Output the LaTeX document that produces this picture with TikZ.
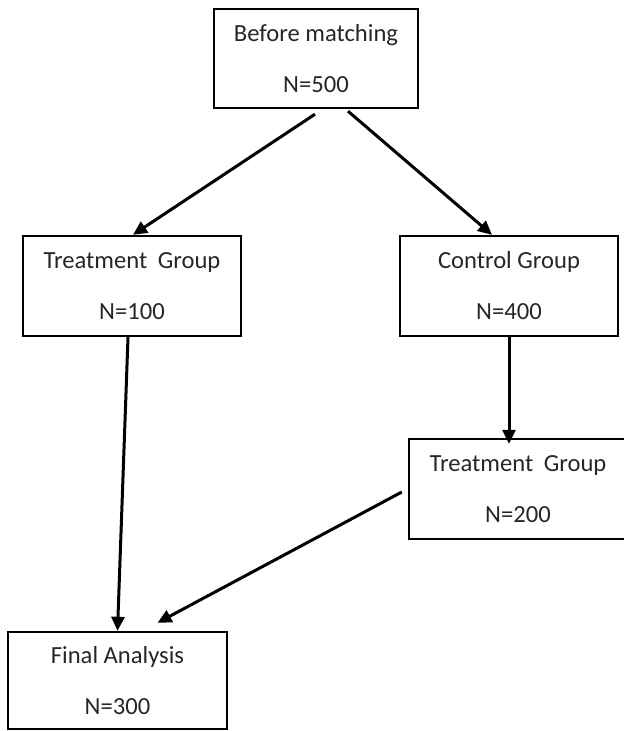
\documentclass[tikz,border=0pt]{standalone}
\usepackage{fontspec}
\setmainfont{Carlito}
\usetikzlibrary{arrows.meta}
\begin{document}
\begin{tikzpicture}[x=0.5pt, y=-0.5pt,
    box/.style={draw, line width=1.2pt, rectangle, align=center, inner sep=0pt,
        minimum width=109pt, minimum height=50pt, text=black!85,
        font=\fontsize{12.3}{14.8}\selectfont},
    arr/.style={line width=1.5pt, -{Triangle[length=7pt, width=6.5pt]}}]
    \useasboundingbox (0,0) rectangle (623,731);
    \node[box, minimum width=102pt, minimum height=49.5pt] (before) at (316,58.5) {Before matching\\[10.7pt]N=500};
    \node[box] (treatL) at (132,286) {Treatment\hspace{2.5pt} Group\\[10.7pt]N=100};
    \node[box] (control) at (509,286) {Control Group\\[10.7pt]N=400};
    \node[box] (treatR) at (518,489) {Treatment\hspace{2.5pt} Group\\[10.7pt]N=200};
    \node[box, minimum width=109.5pt, minimum height=48.5pt] (final) at (117.5,680.5) {Final Analysis\\[10.7pt]N=300};
    \draw[arr] ([xshift=-0.5pt,yshift=-2.5pt]before.south) -- ([xshift=0.5pt]treatL.north);
    \draw[arr] ([xshift=16pt,yshift=-1pt]before.south) -- ([xshift=-8.5pt]control.north);
    \draw[arr] ([xshift=-2pt]treatL.south) -- (final.north);
    \draw[arr] (control.south) -- ([yshift=-3pt]control.south |- treatR.north);
    \draw[arr] ([xshift=-3pt,yshift=-1.5pt]treatR.west) -- ([xshift=20pt,yshift=4pt]final.north);
\end{tikzpicture}
\end{document}
